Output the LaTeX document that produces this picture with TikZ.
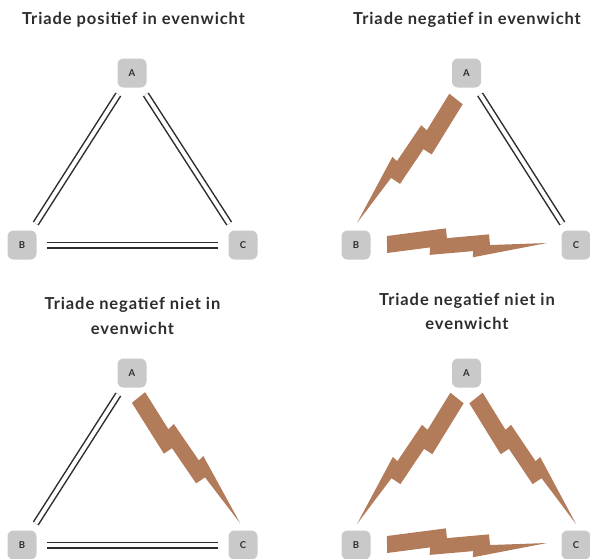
\documentclass[tikz,border=0pt]{standalone}
\usepackage{fontspec}
\setmainfont{Lato}
\newfontfamily\headfont[LetterSpace=5.5]{Lato}
\usepackage{xcolor}
\usetikzlibrary{calc}

\definecolor{boltbrown}{RGB}{178,123,90}
\definecolor{boxgray}{RGB}{201,201,201}
\definecolor{inkgray}{RGB}{45,45,45}

% zigzag band from #1 to #2, jogs on side #3 (90 or -90)
\newcommand{\bolt}[3]{%
  \fill[boltbrown]
    ($(#1)!0!(#2)!8.5pt!#3:(#2)$)
    -- ($(#1)!0.269!(#2)!3.3pt!#3:(#2)$)
    -- ($(#1)!0.266!(#2)!10.8pt!#3:(#2)$)
    -- ($(#1)!0.538!(#2)!7.4pt!#3:(#2)$)
    -- ($(#1)!0.535!(#2)!13.6pt!#3:(#2)$)
    -- (#2)
    -- ($(#1)!0.644!(#2)!1.5pt!#3:(#2)$)
    -- ($(#1)!0.638!(#2)!-9.2pt!#3:(#2)$)
    -- ($(#1)!0.375!(#2)!-5.8pt!#3:(#2)$)
    -- ($(#1)!0.369!(#2)!-15.6pt!#3:(#2)$)
    -- ($(#1)!0!(#2)!-8.5pt!#3:(#2)$)
    -- cycle;}

\begin{document}
\begin{tikzpicture}[x=1pt,y=-1pt,
    vertex/.style={fill=boxgray,rounded corners=6pt,minimum size=29pt,inner sep=0pt,
      text=inkgray,font=\bfseries\fontsize{9.5}{9.5}\selectfont},
    posline/.style={draw=inkgray,line width=1.5pt,double=white,double distance=4pt,
      shorten <=8pt,shorten >=8pt},
    heading/.style={text=inkgray,align=center,anchor=base,
      font=\headfont\bfseries\fontsize{16.5}{24.5}\selectfont}
  ]
  \useasboundingbox (0,0) rectangle (590,558);

  % titles
  \node[heading] (t1) at (133.5,24) {Triade positief in evenwicht};
  \node[heading] (t2) at (467,24) {Triade negatief in evenwicht};
  \node[heading] (t3) at (132.5,334) {Triade negatief niet in\\evenwicht};
  \node[heading] (t4) at (467,329.5) {Triade negatief niet in\\evenwicht};

  % vertices
  \node[vertex] (A1) at (132,73) {A};
  \node[vertex] (B1) at (22,245) {B};
  \node[vertex] (C1) at (243,245) {C};
  \node[vertex] (A2) at (466.5,73) {A};
  \node[vertex] (B2) at (356,245) {B};
  \node[vertex] (C2) at (576,245) {C};
  \node[vertex] (A3) at (132,373) {A};
  \node[vertex] (B3) at (22,545) {B};
  \node[vertex] (C3) at (243,545) {C};
  \node[vertex] (A4) at (466.5,373) {A};
  \node[vertex] (B4) at (356,545) {B};
  \node[vertex] (C4) at (576,545) {C};

  % positive ties
  \draw[posline] (A1) -- (B1);
  \draw[posline] (A1) -- (C1);
  \draw[posline,shorten <=10pt,shorten >=10pt] (B1) -- (C1);
  \draw[posline] (A2) -- (C2);
  \draw[posline] (A3) -- (B3);
  \draw[posline,shorten <=10pt,shorten >=10pt] (B3) -- (C3);

  % negative ties
  \coordinate (ab2s) at ($(A2)+(-10.5,26)$);
  \coordinate (ab2e) at ($(B2)+(1,-22)$);
  \coordinate (bc2s) at ($(B2)+(31,-0.5)$);
  \coordinate (bc2e) at ($(C2)+(-29,-2)$);
  \coordinate (ac3s) at ($(A3)+(6.5,24.5)$);
  \coordinate (ac3e) at ($(C3)+(-3,-22)$);
  \coordinate (ab4s) at ($(A4)+(-9.5,25)$);
  \coordinate (ab4e) at ($(B4)+(1,-21)$);
  \coordinate (ac4s) at ($(A4)+(9.5,25)$);
  \coordinate (ac4e) at ($(C4)+(0,-21)$);
  \coordinate (bc4s) at ($(B4)+(31,-0.5)$);
  \coordinate (bc4e) at ($(C4)+(-29,-2)$);
  \bolt{ab2s}{ab2e}{-90}
  \bolt{bc2s}{bc2e}{-90}
  \bolt{ac3s}{ac3e}{90}
  \bolt{ab4s}{ab4e}{-90}
  \bolt{ac4s}{ac4e}{90}
  \bolt{bc4s}{bc4e}{-90}
\end{tikzpicture}
\end{document}
